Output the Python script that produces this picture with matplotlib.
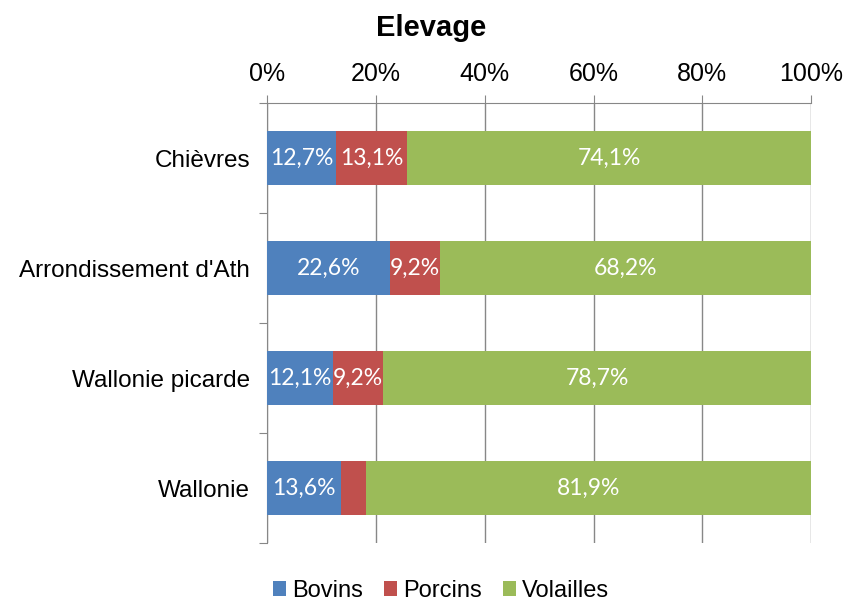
import matplotlib.pyplot as plt
import numpy as np

regions = ["Chièvres", "Arrondissement d'Ath", "Wallonie picarde", "Wallonie"]
bovins = [12.7, 22.6, 12.1, 13.6]
porcins = [13.1, 9.2, 9.2, 4.5]
volailles = [74.1, 68.2, 78.7, 81.9]
show_label = [[True, True, True], [True, True, True], [True, True, True], [True, False, True]]

series = [("Bovins", bovins, "#4F81BD"),
          ("Porcins", porcins, "#C0504D"),
          ("Volailles", volailles, "#9BBB59")]

plt.rcParams['font.family'] = ['Liberation Sans', 'DejaVu Sans']

fig = plt.figure(figsize=(8.45, 6.03), dpi=100)
ax = fig.add_axes([0.316, 0.0995, 0.644, 0.7295])

y = np.arange(len(regions))
left = np.zeros(len(regions))
for k, (name, vals, col) in enumerate(series):
    vals = np.array(vals)
    ax.barh(y, vals, left=left, height=0.49, color=col, label=name, zorder=3)
    for i, v in enumerate(vals):
        if show_label[i][k]:
            ax.text(left[i] + v / 2, y[i], f"{v:.1f}%".replace(".", ","),
                    ha="center", va="center", color="white", fontsize=16.5,
                    family="Lato", zorder=4)
    left += vals

ax.set_xlim(0, 100)
ax.set_ylim(len(regions) - 0.5, -0.5)
ax.xaxis.tick_top()
ax.set_xticks(np.arange(0, 101, 20))
ax.set_xticklabels([f"{t}%" for t in range(0, 101, 20)], fontsize=18)
ax.tick_params(axis="x", which="major", length=6, color="#878787", pad=6)
ax.grid(axis="x", color="#878787", linewidth=1, zorder=0)

ax.set_yticks(np.arange(-0.5, len(regions), 1))
ax.set_yticklabels([])
ax.set_yticks(y, minor=True)
ax.set_yticklabels(regions, minor=True, fontsize=17.5)
ax.tick_params(axis="y", which="major", length=6, color="#878787")
ax.tick_params(axis="y", which="minor", length=0, pad=12)

for side in ["right", "bottom"]:
    ax.spines[side].set_visible(False)
for side in ["top", "left"]:
    ax.spines[side].set_color("#878787")

fig.text(0.51, 0.953, "Elevage", ha="center", va="center",
         fontsize=21, fontweight="bold")

fig.legend(loc="center", bbox_to_anchor=(0.522, 0.02), ncol=3, frameon=False,
           fontsize=17, handlelength=0.55, handleheight=0.55,
           handletextpad=0.25, columnspacing=0.9)

fig.savefig("out.png", dpi=100)
